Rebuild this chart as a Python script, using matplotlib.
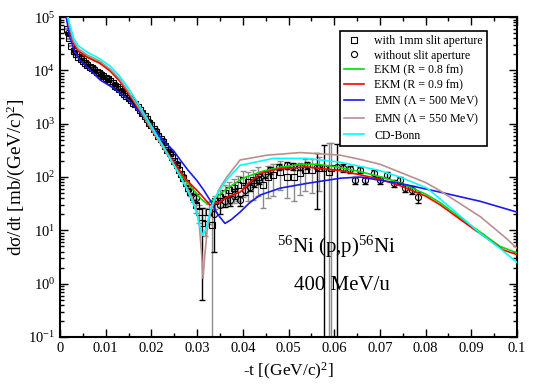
"""
plot.py
Differential cross section of 56Ni(p,p)56Ni at 400 MeV/u
compared with several NN-interaction calculations.
"""

# ======================================================
# IMPORTS
# ======================================================
import numpy as np
import matplotlib
matplotlib.use("Agg")
import matplotlib.pyplot as plt
from matplotlib.lines import Line2D
from matplotlib.ticker import MultipleLocator, FuncFormatter, FixedLocator, NullFormatter

# ======================================================
# DATA
# ======================================================
# data with 1mm slit aperture (squares)
sq_t = [0.0015, 0.0020, 0.0025, 0.0030, 0.0035, 0.0040, 0.0045, 0.0050, 0.0055, 0.0060,
        0.0065, 0.0070, 0.0075, 0.0080, 0.0085, 0.0090, 0.0095, 0.0100, 0.0105, 0.0110,
        0.0115, 0.0120, 0.0125, 0.0130, 0.0135, 0.0140, 0.0145, 0.0150, 0.0155, 0.0160,
        0.0165, 0.0170, 0.0175, 0.0180, 0.0185, 0.0190, 0.0195, 0.0200, 0.0205, 0.0210,
        0.0215, 0.0220, 0.0225, 0.0230, 0.0235, 0.0240, 0.0245, 0.0250, 0.0255, 0.0260,
        0.0265, 0.0270, 0.0275, 0.0280, 0.0285, 0.0290, 0.0297, 0.0305, 0.0310, 0.0318,
        0.0325, 0.0332, 0.0340, 0.0350, 0.0360, 0.0370, 0.0380, 0.0390, 0.0401, 0.0412,
        0.0423, 0.0434, 0.0445, 0.0456, 0.0467, 0.0482, 0.0496, 0.0511, 0.0525, 0.0536,
        0.0551, 0.0566, 0.0589, 0.0593]
sq_xs = [6.0e4, 4.0e4, 2.9e4, 2.3e4, 2.0e4, 1.8e4, 1.66e4, 1.5e4, 1.38e4, 1.26e4,
         1.17e4, 1.1e4, 1.02e4, 9.5e3, 8.9e3, 8.3e3, 7.8e3, 7.2e3, 6.8e3, 6.3e3,
         5.8e3, 5.2e3, 4.8e3, 4.4e3, 4.0e3, 3.6e3, 3.3e3, 3.0e3, 2.75e3, 2.5e3,
         2.3e3, 2.1e3, 1.8e3, 1.6e3, 1.4e3, 1.2e3, 1.05e3, 930, 810, 710,
         600, 520, 450, 380, 320, 280, 240, 200, 166, 138,
         115, 95, 78, 63, 52, 42, 30, 22, 13.5, 17,
         22, 12.6, 35, 42, 50, 56, 63, 71, 87, 81,
         87, 100, 71, 100, 110, 126, 100, 100, 117, 135,
         135, 145, 126, 145]
sq_err = [1.5e3, 1.0e3, 700, 550, 480, 430, 400, 360, 330, 300,
          280, 260, 240, 230, 210, 200, 190, 170, 160, 150,
          140, 130, 120, 110, 100, 90, 85, 80, 75, 70,
          65, 60, 55, 50, 45, 42, 40, 38, 36, 34,
          32, 30, 28, 26, 24, 22, 20, 18, 16, 14,
          12, 11, 10, 9, 8, 8, 9, 8, 13, 9,
          9, 13, 10, 14, 20, 25, 30, 35, 45, 45,
          50, 55, 45, 60, 65, 70, 60, 65, 70, 80,
          85, 90, 300, 290]
# squares whose error bar is drawn in black instead of grey
sq_black_bar = [0.0310]

# data without slit aperture (circles)
ci_t = [0.0018, 0.0030, 0.0045, 0.0060, 0.0075, 0.0090, 0.0105, 0.0120, 0.0135, 0.0150,
        0.0165, 0.0180, 0.0195, 0.0210, 0.0225, 0.0240, 0.0255, 0.0270, 0.0285, 0.0298,
        0.0337, 0.0350, 0.0361, 0.0372, 0.0383, 0.0394, 0.0405, 0.0415, 0.0425, 0.0436,
        0.0448, 0.0460, 0.0480, 0.0496, 0.0510, 0.0526, 0.0540, 0.0562, 0.0577, 0.0606,
        0.0620, 0.0635, 0.0646, 0.0657, 0.0668, 0.0686, 0.0700, 0.0716, 0.0730, 0.0745,
        0.0755, 0.0770, 0.0784]
ci_xs = [5.0e4, 2.4e4, 1.7e4, 1.3e4, 1.05e4, 8.5e3, 6.9e3, 5.3e3, 4.1e3, 3.0e3,
         2.3e3, 1.6e3, 1.1e3, 720, 470, 300, 175, 100, 55, 40,
         20, 30, 35, 37, 49, 37, 58, 66, 79, 89,
         112, 135, 155, 166, 158, 155, 166, 155, 150, 155,
         150, 140, 87, 135, 87, 118, 87, 110, 76, 87,
         62, 58, 43]
ci_err = [1.2e3, 600, 420, 320, 260, 210, 170, 130, 100, 75,
          58, 40, 30, 20, 14, 10, 8, 7, 6, 8,
          16, 10, 8, 8, 10, 8, 12, 12, 14, 15,
          18, 20, 22, 22, 22, 22, 25, 130, 250, 260,
          25, 22, 14, 18, 14, 16, 12, 15, 12, 12,
          10, 10, 10]

# calculations
ekm08_t = [0.001, 0.0015, 0.002, 0.003, 0.004, 0.006, 0.0087, 0.011, 0.013, 0.015,
           0.0175, 0.02, 0.0225, 0.025, 0.0275, 0.029, 0.030, 0.031, 0.0321, 0.033,
           0.0345, 0.0365, 0.040, 0.044, 0.048, 0.052, 0.056, 0.060, 0.0657, 0.070,
           0.0744, 0.080, 0.0832, 0.0898, 0.0963, 0.100]
ekm08_xs = [2.5e5, 1.12e5, 6.6e4, 3.3e4, 2.4e4, 1.82e4, 1.41e4, 1.0e4, 6.6e3, 3.8e3,
            1.78e3, 790, 380, 178, 85, 60, 48, 38, 32, 35,
            44, 60, 95, 126, 151, 170, 174, 158, 126, 102,
            78, 48, 33, 12.6, 5.0, 3.8]

ekm09_t = [0.001, 0.0015, 0.002, 0.003, 0.004, 0.006, 0.0087, 0.011, 0.013, 0.015,
           0.0175, 0.02, 0.0225, 0.025, 0.0275, 0.029, 0.030, 0.031, 0.032, 0.0328,
           0.0335, 0.035, 0.0365, 0.0394, 0.0415, 0.0438, 0.0482, 0.054, 0.0613, 0.0657,
           0.070, 0.0744, 0.080, 0.0832, 0.0898, 0.097, 0.100]
ekm09_xs = [2.4e5, 1.08e5, 6.3e4, 3.2e4, 2.3e4, 1.75e4, 1.36e4, 9.7e3, 6.4e3, 3.7e3,
            1.75e3, 800, 390, 185, 92, 68, 56, 45, 36, 30,
            31, 34, 42, 52, 79, 117, 145, 155, 132, 110,
            91, 69, 44, 30, 11.7, 4.3, 3.5]

emn500_t = [0.001, 0.0015, 0.0022, 0.0033, 0.0044, 0.0055, 0.0088, 0.012, 0.015, 0.018,
            0.020, 0.0225, 0.025, 0.0263, 0.028, 0.030, 0.0315, 0.033, 0.0345, 0.0361,
            0.0375, 0.0394, 0.0415, 0.0438, 0.0482, 0.054, 0.0613, 0.0657, 0.070, 0.0744,
            0.0832, 0.092, 0.100]
emn500_xs = [2.5e5, 8.5e4, 4.0e4, 2.2e4, 1.55e4, 1.26e4, 6.6e3, 4.5e3, 2.8e3, 1.45e3,
             900, 500, 300, 210, 135, 85, 56, 35, 20, 13.5,
             16, 22, 33, 46, 62, 76, 95, 100, 87, 76,
             52, 35, 22]

emn550_t = [0.001, 0.0015, 0.002, 0.003, 0.004, 0.006, 0.0087, 0.011, 0.013, 0.015,
            0.0175, 0.02, 0.0225, 0.025, 0.0275, 0.029, 0.030, 0.0305, 0.031, 0.0313,
            0.0317, 0.0322, 0.033, 0.034, 0.035, 0.0365, 0.0394, 0.0453, 0.0526, 0.0613,
            0.0657, 0.070, 0.0744, 0.080, 0.0832, 0.092, 0.0978, 0.100]
emn550_xs = [2.7e5, 1.2e5, 7.0e4, 3.5e4, 2.55e4, 1.95e4, 1.5e4, 1.06e4, 7.0e3, 4.0e3,
             1.85e3, 800, 360, 160, 70, 40, 22, 12, 3.5, 1.25,
             3.5, 10, 23, 40, 63, 100, 209, 257, 288, 257,
             214, 174, 123, 79, 55, 18, 6.9, 4.6]

cdbonn_t = [0.001, 0.0015, 0.002, 0.003, 0.004, 0.006, 0.0087, 0.011, 0.013, 0.015,
            0.0175, 0.02, 0.0225, 0.025, 0.0275, 0.029, 0.030, 0.0305, 0.0312, 0.032,
            0.033, 0.034, 0.035, 0.0365, 0.0394, 0.0467, 0.054, 0.0613, 0.0657, 0.070,
            0.0744, 0.0803, 0.0861, 0.092, 0.0963, 0.100]
cdbonn_xs = [3.0e5, 1.35e5, 8.0e4, 4.0e4, 2.9e4, 2.2e4, 1.65e4, 1.2e4, 7.9e3, 4.6e3,
             2.1e3, 900, 390, 165, 66, 35, 20, 13, 8.1, 11,
             26, 42, 58, 90, 166, 224, 224, 190, 158, 132,
             100, 62, 24, 8.7, 4.6, 2.5]

curves = [
    ("EKM (R = 0.8 fm)", ekm08_t, ekm08_xs, "#00dd00"),
    ("EKM (R = 0.9 fm)", ekm09_t, ekm09_xs, "#ff0000"),
    ("EMN ($\\Lambda$ = 500 MeV)", emn500_t, emn500_xs, "#1a1aee"),
    ("EMN ($\\Lambda$ = 550 MeV)", emn550_t, emn550_xs, "#bc8f8f"),
    ("CD-Bonn", cdbonn_t, cdbonn_xs, "#00ffff"),
]

# axis ticks
y_decades = [1e-1, 1e0, 1e1, 1e2, 1e3, 1e4, 1e5]

# ======================================================
# STYLE
# ======================================================
plt.rcParams["font.family"] = ["Liberation Serif", "DejaVu Serif"]
plt.rcParams["mathtext.fontset"] = "custom"
plt.rcParams["mathtext.rm"] = "Liberation Serif"
plt.rcParams["mathtext.it"] = "Liberation Serif:italic"
plt.rcParams["mathtext.bf"] = "Liberation Serif:bold"

# ======================================================
# PLOT
# ======================================================
fig = plt.figure(figsize=(5.38, 3.88), dpi=100)
ax = fig.add_axes([0.1115, 0.1314, 0.8495, 0.8246])
ax.set_yscale("log")


def draw_errorbars(t, xs, err, color, mask):
    t = np.asarray(t)[mask]
    xs = np.asarray(xs, dtype=float)[mask]
    err = np.asarray(err, dtype=float)[mask]
    lower = np.minimum(err, xs - 1e-3)   # bars reaching zero run off the bottom
    ax.errorbar(t, xs, yerr=[lower, err], fmt="none", ecolor=color,
                elinewidth=1.0, capsize=2.2, capthick=1.0, zorder=2)


sq_black = np.isin(sq_t, sq_black_bar)
draw_errorbars(sq_t, sq_xs, sq_err, "#8c8c8c", ~sq_black)
draw_errorbars(sq_t, sq_xs, sq_err, "black", sq_black)
draw_errorbars(ci_t, ci_xs, ci_err, "black", np.ones(len(ci_t), dtype=bool))

ax.plot(sq_t, sq_xs, "s", ms=4.2, mfc="none", mec="black", mew=0.8, zorder=3)
ax.plot(ci_t, ci_xs, "o", ms=4.4, mfc="none", mec="black", mew=0.8, zorder=3)

for label, t, xs, color in curves:
    ax.plot(t, xs, "-", color=color, lw=1.2, zorder=4)

# ------------------------------------------------------
# axes
# ------------------------------------------------------
ax.set_xlim(0, 0.1)
ax.set_ylim(1e-1, 1e5)
ax.xaxis.set_major_locator(MultipleLocator(0.01))
ax.xaxis.set_minor_locator(MultipleLocator(0.005))
ax.xaxis.set_major_formatter(FuncFormatter(lambda v, _: "0" if abs(v) < 1e-9 else "%g" % round(v, 3)))

# only the decades inside the frame, so no hidden labels sit outside the figure
y_minor = [d * k for d in y_decades[:-1] for k in range(2, 10)]
ax.yaxis.set_major_locator(FixedLocator(y_decades))
ax.yaxis.set_minor_locator(FixedLocator(y_minor))
ax.yaxis.set_minor_formatter(NullFormatter())
ax.yaxis.set_major_formatter(FuncFormatter(
    lambda v, _: r"$\mathregular{10^{%d}}$" % int(round(np.log10(v)))))

ax.tick_params(which="both", direction="in", top=True, right=True, labelsize=10.5)
ax.tick_params(which="major", length=6, width=1.0)
ax.tick_params(which="minor", length=3, width=1.0)
for sp in ax.spines.values():
    sp.set_linewidth(1.5)

ax.set_xlabel(r"-t [(GeV/c)$\mathregular{^{2}}$]", fontsize=12.5, labelpad=4)
ax.set_ylabel("d\u03c3/dt [mb/(GeV/c)$\\mathregular{^{2}}$]", fontsize=13.8, labelpad=1)

ax.text(0.0475, 3.8, r"$\mathregular{^{56}}$Ni (p,p)$\mathregular{^{56}}$Ni",
        fontsize=15, va="baseline", ha="left")
ax.text(0.0512, 0.76, "400 MeV/u", fontsize=15, va="baseline", ha="left")

# ------------------------------------------------------
# legend
# ------------------------------------------------------
handles = [
    Line2D([], [], ls="none", marker="s", ms=4.2, mfc="none", mec="black", mew=0.8),
    Line2D([], [], ls="none", marker="o", ms=4.4, mfc="none", mec="black", mew=0.8),
]
labels = ["with 1mm slit aperture", "without slit aperture"]
for label, t, xs, color in curves:
    handles.append(Line2D([], [], color=color, lw=1.2))
    labels.append(label)

leg = ax.legend(handles, labels, loc="upper right", bbox_to_anchor=(0.934, 0.957),
                borderaxespad=0, fontsize=8.6, handlelength=1.7, handletextpad=0.8,
                labelspacing=0.22, borderpad=0.35, fancybox=False, framealpha=1)
leg.get_frame().set_edgecolor("black")
leg.get_frame().set_linewidth(1.2)

fig.savefig("out.png", dpi=100)
